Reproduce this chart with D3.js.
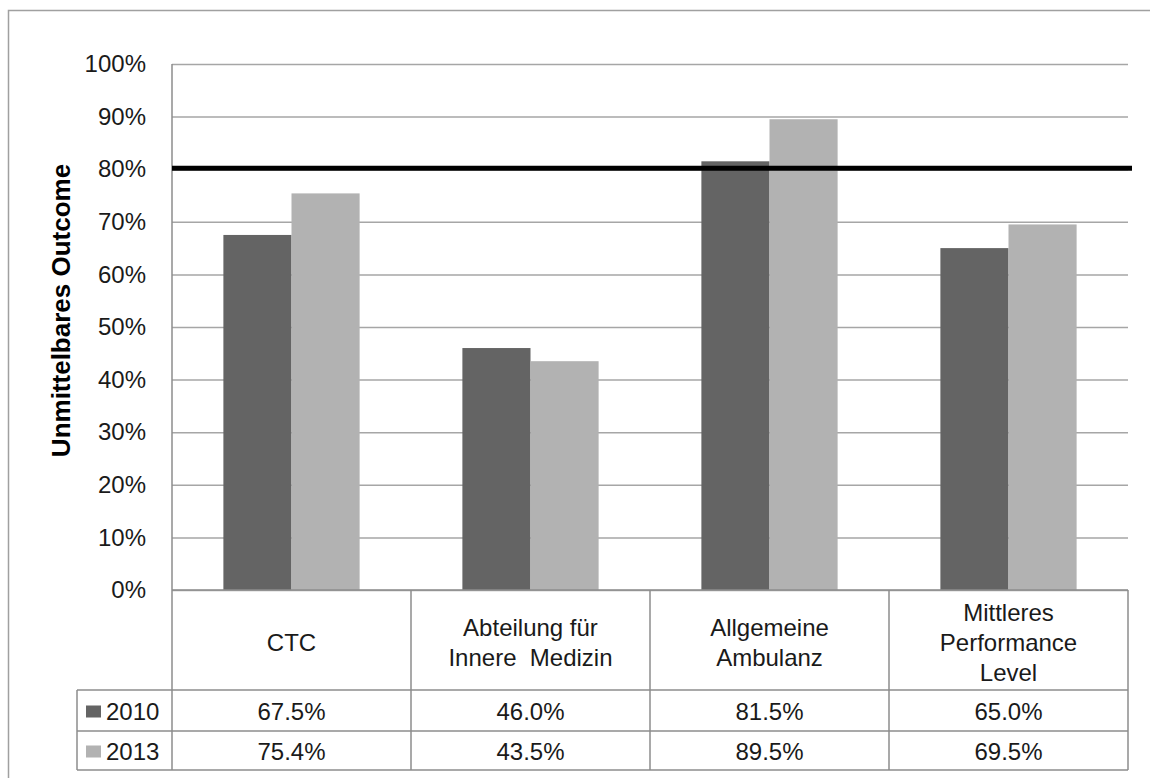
<!DOCTYPE html>
<html>
<head>
<meta charset="utf-8">
<script src="https://cdn.jsdelivr.net/npm/d3@7"></script>
<style>
  html, body { margin: 0; padding: 0; background: #ffffff; }
  svg { display: block; font-family: "Liberation Sans", Arial, sans-serif; }
</style>
</head>
<body>
<svg id="chart" width="1150" height="778"></svg>
<script>
// ---- data ----
const categories = ["CTC", "Abteilung für Innere  Medizin", "Allgemeine Ambulanz", "Mittleres Performance Level"];
const categoryLines = [["CTC"], ["Abteilung für", "Innere  Medizin"], ["Allgemeine", "Ambulanz"], ["Mittleres", "Performance", "Level"]];
const seriesNames = ["2010", "2013"];
const values2010 = [0.675, 0.460, 0.815, 0.650];
const values2013 = [0.754, 0.435, 0.895, 0.695];
const tableLabels2010 = ["67.5%", "46.0%", "81.5%", "65.0%"];
const tableLabels2013 = ["75.4%", "43.5%", "89.5%", "69.5%"];
const yTicks = [0, 0.1, 0.2, 0.3, 0.4, 0.5, 0.6, 0.7, 0.8, 0.9, 1.0];
const targetValue = 0.8;
const yAxisTitle = "Unmittelbares Outcome";

// ---- layout ----
const colors = { "2010": "#646464", "2013": "#b2b2b2" };
const gridColor = "#a6a6a6";
const borderColor = "#8c8c8c";
const plotLeft = 172, plotRight = 1128, plotTop = 64, plotBottom = 590;
const tableCatBottom = 690, row1Bottom = 731, row2Bottom = 770, legendLeft = 77;
const fontSize = 24;

const svg = d3.select("#chart");

// outer frame
svg.append("rect").attr("x", 8.5).attr("y", 10.5).attr("width", 1170).attr("height", 800)
  .attr("fill", "none").attr("stroke", "#a0a0a0").attr("stroke-width", 1.5);

const x = d3.scaleBand().domain(categories).range([plotLeft, plotRight]).paddingInner(0).paddingOuter(0);
const groupW = x.bandwidth() * 0.57;
const xs = d3.scaleBand().domain(seriesNames).range([0, groupW]).padding(0);
const y = d3.scaleLinear().domain([0, 1]).range([plotBottom, plotTop]);

// gridlines
const grid = svg.append("g").attr("transform", `translate(${plotLeft},0)`)
  .call(d3.axisLeft(y).tickValues(yTicks).tickSize(-(plotRight - plotLeft)).tickFormat(""));
grid.select(".domain").remove();
grid.selectAll(".tick line").attr("stroke", gridColor).attr("stroke-width", 1.5);

// plot left border
svg.append("line").attr("x1", plotLeft).attr("x2", plotLeft).attr("y1", y(1)).attr("y2", y(0))
  .attr("stroke", borderColor).attr("stroke-width", 1.5);

// y tick labels
const yAxis = svg.append("g").attr("transform", `translate(146,0)`)
  .call(d3.axisLeft(y).tickValues(yTicks).tickSize(0).tickPadding(0).tickFormat(d3.format(".0%")));
yAxis.select(".domain").remove();
yAxis.selectAll("text").attr("font-size", fontSize).attr("fill", "#1a1a1a")
  .attr("font-family", "'Liberation Sans', Arial, sans-serif");

// y axis title
svg.append("text").attr("transform", `translate(70,${(163 + 458) / 2}) rotate(-90)`)
  .attr("text-anchor", "middle").attr("font-size", 26).attr("font-weight", "bold").attr("fill", "#000")
  .text(yAxisTitle);

// bars
const seriesData = [values2010, values2013];
seriesNames.forEach((s, si) => {
  svg.append("g").selectAll("rect").data(categories).join("rect")
    .attr("x", c => x(c) + (x.bandwidth() - groupW) / 2 + xs(s))
    .attr("width", xs.bandwidth())
    .attr("y", (c, i) => y(seriesData[si][i]))
    .attr("height", (c, i) => y(0) - y(seriesData[si][i]))
    .attr("fill", colors[s]);
});

// target line
svg.append("line").attr("x1", plotLeft).attr("x2", 1132).attr("y1", y(targetValue) - 1).attr("y2", y(targetValue) - 1)
  .attr("stroke", "#000").attr("stroke-width", 5);

// data table
const tbl = svg.append("g").attr("fill", "none").attr("stroke", borderColor).attr("stroke-width", 1.5);
tbl.append("line").attr("x1", plotLeft).attr("x2", plotRight).attr("y1", plotBottom).attr("y2", plotBottom);
tbl.append("line").attr("x1", legendLeft).attr("x2", plotRight).attr("y1", tableCatBottom).attr("y2", tableCatBottom);
tbl.append("line").attr("x1", legendLeft).attr("x2", plotRight).attr("y1", row1Bottom).attr("y2", row1Bottom);
tbl.append("line").attr("x1", legendLeft).attr("x2", plotRight).attr("y1", row2Bottom).attr("y2", row2Bottom);
const colEdges = categories.map(c => x(c)).concat([plotRight]);
colEdges.forEach(cx => {
  tbl.append("line").attr("x1", cx).attr("x2", cx).attr("y1", plotBottom).attr("y2", row2Bottom);
});
tbl.append("line").attr("x1", legendLeft).attr("x2", legendLeft).attr("y1", tableCatBottom).attr("y2", row2Bottom);

// category labels
const lineH = 30;
const catCenter = (plotBottom + tableCatBottom) / 2 + 2;
categories.forEach((c, i) => {
  const lines = categoryLines[i];
  const t = svg.append("text").attr("text-anchor", "middle").attr("font-size", fontSize).attr("fill", "#1a1a1a")
    .attr("dominant-baseline", "central");
  lines.forEach((ln, li) => {
    t.append("tspan").attr("x", x(c) + x.bandwidth() / 2)
      .attr("y", catCenter + (li - (lines.length - 1) / 2) * lineH)
      .attr("xml:space", "preserve")
      .text(ln);
  });
});

// table values
const rows = [
  { name: seriesNames[0], labels: tableLabels2010, cy: (tableCatBottom + row1Bottom) / 2 + 1 },
  { name: seriesNames[1], labels: tableLabels2013, cy: (row1Bottom + row2Bottom) / 2 + 1 }
];
rows.forEach(r => {
  svg.append("rect").attr("x", 86).attr("y", r.cy - 6).attr("width", 15).attr("height", 12).attr("fill", colors[r.name]);
  svg.append("text").attr("x", 106).attr("y", r.cy).attr("dominant-baseline", "central")
    .attr("font-size", fontSize).attr("fill", "#1a1a1a").text(r.name);
  svg.append("g").selectAll("text").data(categories).join("text")
    .attr("x", c => x(c) + x.bandwidth() / 2).attr("y", r.cy)
    .attr("text-anchor", "middle").attr("dominant-baseline", "central")
    .attr("font-size", fontSize).attr("fill", "#1a1a1a")
    .text((c, i) => r.labels[i]);
});
</script>
</body>
</html>
